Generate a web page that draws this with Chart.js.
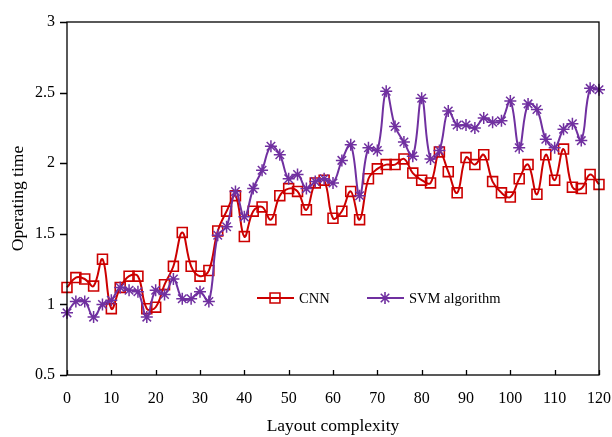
<!DOCTYPE html>
<html>
<head>
<meta charset="utf-8">
<script src="https://cdn.jsdelivr.net/npm/chart.js@4/dist/chart.umd.min.js"></script>
<style>
  html, body { margin: 0; padding: 0; background: #fff; }
  #wrap { width: 612px; height: 437px; }
</style>
</head>
<body>
<div id="wrap"><canvas id="chart" width="612" height="437"></canvas></div>
<script>
// layout complexity values (x axis)
const complexity = [0, 2, 4, 6, 8, 10, 12, 14, 16, 18, 20, 22, 24, 26, 28, 30, 32, 34, 36, 38,
  40, 42, 44, 46, 48, 50, 52, 54, 56, 58, 60, 62, 64, 66, 68, 70, 72, 74, 76, 78,
  80, 82, 84, 86, 88, 90, 92, 94, 96, 98, 100, 102, 104, 106, 108, 110, 112, 114, 116, 118, 120];

// operating time
const cnnTime = [1.12, 1.19, 1.18, 1.13, 1.32, 0.97, 1.12, 1.20, 1.20, 0.97,
  0.98, 1.14, 1.27, 1.51, 1.27, 1.20, 1.24, 1.52, 1.66, 1.77,
  1.48, 1.66, 1.69, 1.60, 1.77, 1.82, 1.80, 1.67, 1.86, 1.88,
  1.61, 1.66, 1.80, 1.60, 1.89, 1.96, 1.99, 1.99, 2.03, 1.93,
  1.88, 1.86, 2.08, 1.94, 1.79, 2.04, 1.99, 2.06, 1.87, 1.79,
  1.76, 1.89, 1.99, 1.78, 2.06, 1.88, 2.10, 1.83, 1.82, 1.92, 1.85];

const svmTime = [0.94, 1.02, 1.02, 0.91, 1.00, 1.03, 1.12, 1.10, 1.09, 0.91,
  1.10, 1.07, 1.18, 1.04, 1.04, 1.09, 1.02, 1.49, 1.55, 1.80,
  1.62, 1.82, 1.95, 2.12, 2.06, 1.89, 1.92, 1.82, 1.87, 1.89,
  1.86, 2.02, 2.13, 1.77, 2.11, 2.09, 2.51, 2.26, 2.15, 2.05,
  2.46, 2.03, 2.09, 2.37, 2.27, 2.27, 2.25, 2.32, 2.29, 2.30,
  2.44, 2.11, 2.42, 2.38, 2.17, 2.11, 2.24, 2.28, 2.16, 2.53, 2.52];

const xTicks = [0, 10, 20, 30, 40, 50, 60, 70, 80, 90, 100, 110, 120];
const yTicks = [0.5, 1, 1.5, 2, 2.5, 3];

const seriesNames = ['CNN', 'SVM algorithm'];
const RED = '#CC0000';
const PURPLE = '#7030A0';
const FONT = 'Liberation Serif, Times New Roman, serif';

const toPoints = ys => complexity.map((x, i) => ({ x: x, y: ys[i] }));

// box, tick marks and the legend are drawn by hand (MATLAB look)
const frame = {
  id: 'frame',
  afterDraw(chart) {
    const { ctx, chartArea: a, scales } = chart;
    ctx.save();
    ctx.strokeStyle = '#000';
    ctx.lineWidth = 1.3;
    ctx.strokeRect(a.left, a.top, a.right - a.left, a.bottom - a.top);
    ctx.beginPath();
    yTicks.forEach(v => {
      const y = Math.round(scales.y.getPixelForValue(v)) + 0.5;
      ctx.moveTo(a.left - 7, y);
      ctx.lineTo(a.left, y);
    });
    xTicks.forEach(v => {
      const x = Math.round(scales.x.getPixelForValue(v)) + 0.5;
      ctx.moveTo(x, a.bottom);
      ctx.lineTo(x, a.bottom - 5);
    });
    ctx.stroke();

    // legend inside the plot
    const ly = 298;
    const items = [
      { x0: 257, color: RED, style: 'rect', r: 7 },
      { x0: 367, color: PURPLE, style: 'star', r: 6 }
    ];
    ctx.font = '14.5px ' + FONT;
    ctx.textBaseline = 'middle';
    items.forEach((it, i) => {
      ctx.strokeStyle = it.color;
      ctx.fillStyle = 'rgba(0,0,0,0)';
      ctx.lineWidth = 2;
      ctx.beginPath();
      ctx.moveTo(it.x0, ly);
      ctx.lineTo(it.x0 + 37, ly);
      ctx.stroke();
      ctx.lineWidth = 1.6;
      Chart.helpers.drawPoint(ctx, { pointStyle: it.style, radius: it.r, borderWidth: 1.6 }, it.x0 + 18, ly);
      ctx.fillStyle = '#000';
      ctx.fillText(seriesNames[i], it.x0 + 42, ly + 1);
    });
    ctx.restore();
  }
};

new Chart(document.getElementById('chart'), {
  type: 'line',
  data: {
    datasets: [
      {
        label: seriesNames[0],
        data: toPoints(cnnTime),
        borderColor: RED,
        backgroundColor: 'rgba(0,0,0,0)',
        borderWidth: 2,
        tension: 0.4,
        pointStyle: 'rect',
        pointRadius: 7,
        pointBorderWidth: 1.6,
        pointBorderColor: RED,
        pointBackgroundColor: 'rgba(0,0,0,0)',
        clip: false,
        order: 2
      },
      {
        label: seriesNames[1],
        data: toPoints(svmTime),
        borderColor: PURPLE,
        backgroundColor: 'rgba(0,0,0,0)',
        borderWidth: 2,
        tension: 0.4,
        pointStyle: 'star',
        pointRadius: 6,
        pointBorderWidth: 1.5,
        pointBorderColor: PURPLE,
        pointBackgroundColor: PURPLE,
        clip: false,
        order: 1
      }
    ]
  },
  options: {
    responsive: false,
    animation: false,
    layout: { padding: { top: 22, right: 0, left: 0, bottom: 0 } },
    plugins: {
      legend: { display: false },
      tooltip: { enabled: false }
    },
    scales: {
      x: {
        type: 'linear',
        min: 0,
        max: 120,
        afterBuildTicks: s => { s.ticks = xTicks.map(v => ({ value: v })); },
        afterFit: s => { s.height = 62; s.paddingRight = 13; s.paddingLeft = 0; },
        grid: { display: false, drawTicks: false },
        border: { display: false },
        ticks: { color: '#000', padding: 14, maxRotation: 0, font: { family: FONT, size: 16 } },
        title: { display: true, text: 'Layout complexity', color: '#000', padding: { top: 0, bottom: 0 }, font: { family: FONT, size: 17.5 } }
      },
      y: {
        min: 0.5,
        max: 3,
        afterBuildTicks: s => { s.ticks = yTicks.map(v => ({ value: v })); },
        afterFit: s => { s.width = 67; },
        grid: { display: false, drawTicks: false },
        border: { display: false },
        ticks: { color: '#000', padding: 12, font: { family: FONT, size: 16 }, callback: v => String(v) },
        title: { display: true, text: 'Operating time', color: '#000', padding: { top: 8, bottom: 0 }, font: { family: FONT, size: 17.5 } }
      }
    }
  },
  plugins: [frame]
});
</script>
</body>
</html>
